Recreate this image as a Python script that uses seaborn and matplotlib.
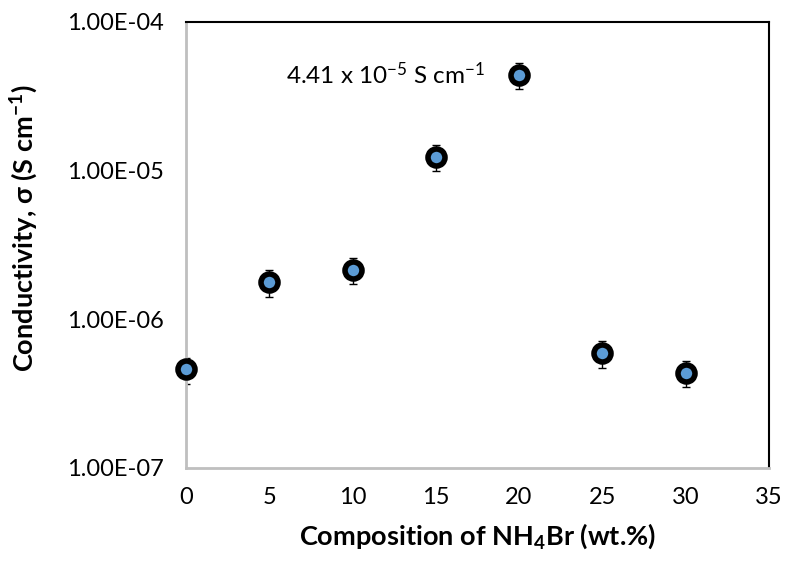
import matplotlib.pyplot as plt
import pandas as pd
import seaborn as sns

composition = [0, 5, 10, 15, 20, 25, 30]
conductivity = [4.6e-7, 1.78e-6, 2.15e-6, 1.24e-5, 4.41e-5, 5.9e-7, 4.36e-7]
error = [0.92e-7, 0.36e-6, 0.43e-6, 0.25e-5, 0.88e-5, 1.2e-7, 0.87e-7]

x_ticks = [0, 5, 10, 15, 20, 25, 30, 35]
y_ticks = [1e-7, 1e-6, 1e-5, 1e-4]
y_tick_labels = ["1.00E-07", "1.00E-06", "1.00E-05", "1.00E-04"]

df = pd.DataFrame({"x": composition, "y": conductivity, "err": error})

sns.set_theme(style="white")
plt.rcParams["font.family"] = ["Lato", "DejaVu Sans"]
plt.rcParams["mathtext.fontset"] = "custom"
plt.rcParams["mathtext.rm"] = "Lato"
plt.rcParams["mathtext.bf"] = "Lato:bold"
plt.rcParams["mathtext.default"] = "regular"
plt.rcParams["text.color"] = "black"
plt.rcParams["axes.labelcolor"] = "black"

fig, ax = plt.subplots(figsize=(8, 5.63), dpi=100)
fig.subplots_adjust(left=0.2325, right=0.961, top=0.961, bottom=0.169)

# Планки погрешностей
ax.errorbar(df["x"], df["y"], yerr=df["err"], fmt="none", ecolor="black",
            elinewidth=1, capsize=3, capthick=1, zorder=2)

# Точки
sns.scatterplot(data=df, x="x", y="y", ax=ax, s=150, color="#5B9BD5",
                edgecolor="black", linewidth=4, zorder=3, clip_on=False)

ax.set_yscale("log")
ax.set_xlim(0, 35)
ax.set_ylim(1e-7, 1e-4)
ax.set_xticks(x_ticks)
ax.set_yticks(y_ticks)
ax.set_yticklabels(y_tick_labels)
ax.minorticks_off()

grey = "#BFBFBF"
ax.spines["left"].set_color(grey)
ax.spines["bottom"].set_color(grey)
ax.spines["left"].set_linewidth(2)
ax.spines["bottom"].set_linewidth(2)
ax.spines["top"].set_color("black")
ax.spines["right"].set_color("black")
ax.spines["top"].set_linewidth(1.5)
ax.spines["right"].set_linewidth(1.5)

ax.tick_params(axis="both", which="major", direction="out", length=6,
               width=1.5, color=grey, labelsize=17, labelcolor="black", pad=10)
ax.tick_params(axis="x", pad=8)

ax.set_xlabel("Composition of NH$_4$Br (wt.%)", fontsize=19.5, fontweight="bold", color="black")
ax.set_ylabel("Conductivity, σ (S cm$^{-1}$)", fontsize=19.5, fontweight="bold", color="black")
ax.xaxis.set_label_coords(0.5, -0.121)
ax.yaxis.set_label_coords(-0.25, 0.538)

ax.text(6.0, 4.4e-5, "4.41 x 10$^{-5}$ S cm$^{-1}$", fontsize=17.5,
        ha="left", va="center", color="black")

plt.savefig("out.png", dpi=100)
plt.close()
